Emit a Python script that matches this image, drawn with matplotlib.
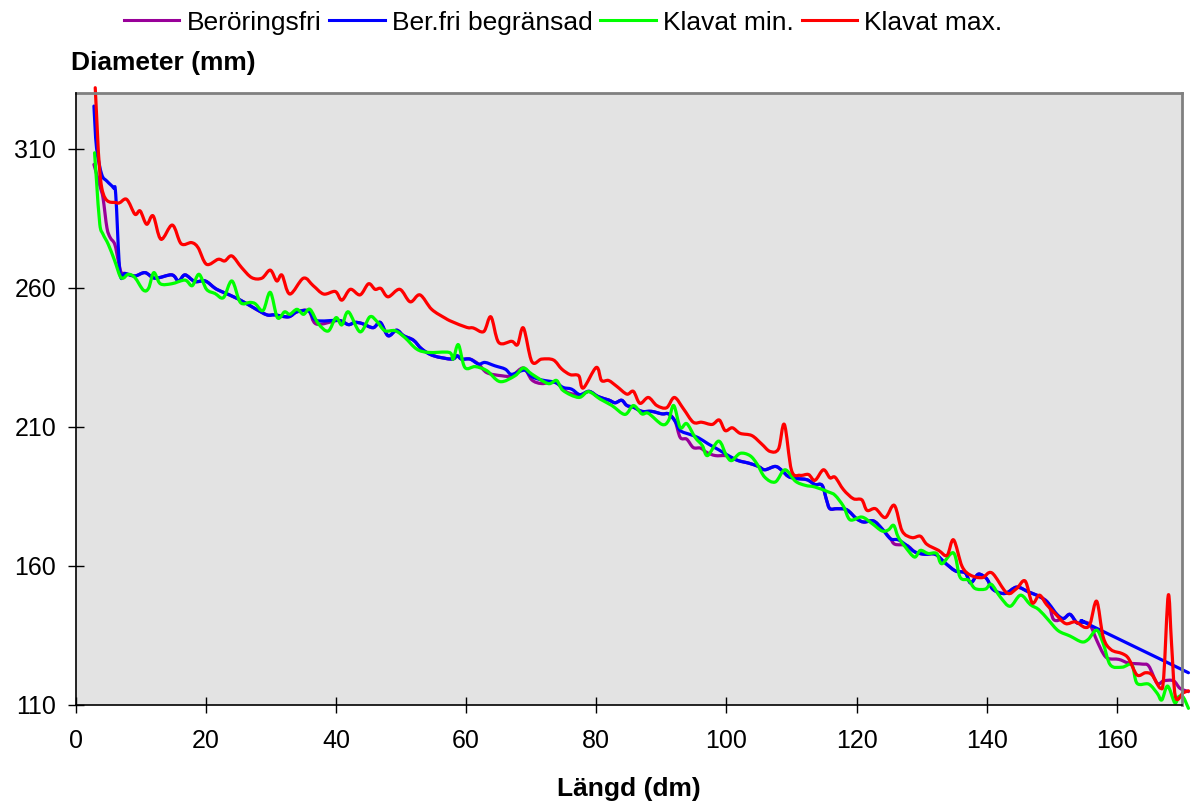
import matplotlib
matplotlib.use("Agg")
import matplotlib.pyplot as plt
from matplotlib.path import Path
from matplotlib.patches import PathPatch

plt.rcParams['font.family'] = ['Liberation Sans', 'DejaVu Sans']

# Klavat max. (red)
max_x = [3, 4, 6.3, 7.8, 9.1, 9.9, 10.9, 11.9, 13.1, 14.85, 16.2, 17.8, 18.8, 20.1,
         21.9, 22.9, 24.0, 25.5, 27.05, 28.6, 29.9, 30.9, 31.7, 32.9, 35.0, 36.5,
         38.1, 39.9, 40.9, 42.2, 43.7, 45.0, 46.0, 46.9, 48.0, 49.8, 51.4, 52.9,
         54.7, 56.8, 57.8, 60.1, 61.1, 62.7, 63.8, 65.0, 67.0, 67.9, 68.8, 70.1,
         71.6, 73.4, 74.7, 76.0, 77.3, 78.0, 80.0, 80.8, 81.9, 83.2, 84.7, 85.7,
         86.7, 88.0, 89.3, 90.8, 92.0, 93.4, 94.9, 96.2, 97.8, 98.9, 99.8, 100.9,
         102.1, 103.9, 105.4, 106.7, 108.0, 108.9, 110.0, 111.3, 112.6, 113.6,
         114.9, 115.9, 116.7, 118.0, 119.5, 120.8, 121.6, 122.9, 124.4, 125.8,
         127.0, 128.5, 129.8, 130.8, 132.6, 133.9, 134.9, 136.2, 137.5, 139.3,
         140.8, 143.1, 144.6, 145.9, 147.0, 148.1, 149.2, 150.5, 152.1, 153.6,
         155.1, 155.9, 156.9, 157.9, 159.1, 160.8, 161.8, 163.1, 164.4, 165.4,
         166.7, 167.2, 167.9, 168.4, 169.0, 170.2, 171.0]
max_y = [332, 296, 290.6, 291.9, 286.5, 287.7, 282.9, 285.9, 277.5, 282.6, 275.9, 276.3,
         274.5, 268.5, 270.3, 269.7, 271.5, 267.3, 263.7, 263.5, 266.4, 262.5, 264.6,
         257.8, 263.5, 260.8, 257.8, 258.7, 255.6, 259.5, 257.5, 261.5, 259.5, 259.8,
         256.8, 259.5, 255.0, 257.5, 252.3, 249.1, 247.9, 245.8, 245.6, 244.3, 249.6,
         240.4, 240.8, 239.6, 245.6, 233.5, 234.4, 234.1, 230.8, 228.8, 228.4, 224.0,
         231.4, 226.7, 226.7, 224.5, 221.8, 222.8, 218.5, 220.6, 217.7, 216.9, 220.6,
         216.5, 211.7, 211.7, 210.9, 212.5, 208.7, 209.7, 207.7, 206.9, 203.9, 201.2,
         202.1, 210.9, 194.4, 192.6, 192.9, 190.8, 194.6, 191.7, 191.9, 187.4, 184.2,
         183.8, 180.0, 180.6, 177.4, 181.8, 172.6, 170.2, 170.7, 167.8, 165.6, 163.8,
         169.4, 159.9, 156.7, 155.8, 157.5, 150.3, 151.9, 154.6, 146.7, 149.5, 146.1,
         142.9, 139.3, 139.9, 137.9, 139.3, 147.3, 134.4, 129.9, 128.5, 126.7, 120.8,
         121.6, 120.8, 116.0, 120.2, 149.5, 132.1, 113.0, 114.4, 115.1]

# Klavat min. (green)
min_x = [2.9, 3.2, 3.7, 4.2, 5.0, 6.0, 6.8, 7.3, 8.1, 9.1, 10.4, 11.2, 12.0, 13.0,
         14.75, 16.8, 17.9, 18.95, 20.1, 21.4, 22.7, 24.0, 25.3, 26.8, 27.6, 28.8,
         29.9, 31.0, 32.1, 32.9, 34.0, 35.0, 36.0, 37.3, 38.8, 40.0, 40.9, 41.9,
         43.7, 45.2, 46.3, 47.5, 49.1, 50.6, 52.4, 54.2, 57.4, 58.0, 58.8, 59.8,
         61.4, 63.2, 65.2, 67.5, 68.8, 70.1, 72.6, 73.9, 74.9, 77.3, 78.8, 80.6,
         82.4, 84.4, 85.7, 87.0, 88.0, 90.1, 91.1, 91.9, 92.9, 93.9, 95.2, 96.3,
         97.1, 98.8, 100.0, 100.8, 102.1, 103.6, 104.7, 105.9, 107.5, 109.0, 110.6,
         112.1, 113.6, 115.7, 116.7, 118.0, 119.0, 120.8, 122.3, 123.9, 124.9,
         125.7, 126.4, 127.5, 128.9, 129.8, 131.0, 132.3, 133.1, 134.9, 135.9,
         137.2, 138.2, 139.8, 140.7, 142.1, 143.6, 145.2, 146.7, 148.0, 149.5,
         151.0, 152.8, 154.6, 155.6, 156.9, 157.9, 159.0, 160.8, 162.3, 163.1,
         164.9, 166.2, 166.9, 167.8, 168.9, 169.5, 170.2, 171.0]
min_y = [308.6, 298.4, 282.9, 279.3, 275.7, 269.7, 264.3, 263.5, 264.9, 263.7, 259.2,
         259.9, 265.5, 261.5, 261.5, 262.8, 260.8, 264.9, 259.5, 258.0, 256.5, 262.5,
         254.8, 254.8, 254.3, 251.9, 258.4, 249.3, 251.4, 250.5, 252.3, 250.5, 252.3,
         247.1, 244.5, 249.3, 246.7, 251.4, 244.2, 249.6, 247.9, 244.6, 244.6, 242.1,
         238.0, 236.8, 236.8, 234.4, 239.6, 231.4, 231.7, 230.2, 226.3, 228.4, 231.2,
         229.0, 225.6, 226.7, 223.1, 220.6, 222.7, 220.0, 217.7, 214.5, 217.7, 214.7,
         214.9, 210.9, 212.3, 217.7, 209.8, 211.2, 206.2, 203.3, 199.7, 204.9, 199.7,
         197.9, 200.5, 199.7, 196.7, 191.9, 190.2, 194.6, 190.5, 189.0, 188.4, 186.6,
         185.4, 181.4, 176.6, 177.6, 175.4, 172.6, 173.0, 174.6, 170.4, 166.8, 163.2,
         165.6, 164.5, 164.5, 160.8, 164.7, 156.0, 154.9, 151.9, 151.7, 153.4, 148.8,
         145.5, 149.5, 146.1, 144.3, 140.5, 136.7, 134.8, 132.7, 133.6, 136.9, 132.1,
         124.4, 123.6, 124.4, 117.8, 117.5, 114.2, 111.8, 116.8, 110.8, 113.0, 112.8,
         108.8]

# Ber.fri begränsad (blue)
begr_x = [2.8, 3.2, 4.0, 4.8, 5.8, 6.15, 6.8, 7.6, 9.1, 10.65, 12.2, 14.75, 15.8, 16.8,
          18.3, 19.9, 21.4, 22.4, 25.0, 27.6, 29.4, 30.6, 32.7, 34.0, 35.8, 37.0,
          40.4, 41.9, 42.9, 44.0, 45.7, 46.8, 48.0, 49.3, 50.4, 51.9, 53.2, 55.0,
          57.8, 58.6, 59.3, 60.6, 61.9, 62.9, 64.4, 66.0, 66.8, 67.5, 69.0, 70.1,
          71.6, 73.7, 74.9, 76.2, 77.5, 78.9, 80.3, 81.9, 82.9, 83.9, 84.7, 85.7,
          87.0, 88.5, 90.1, 91.1, 92.1, 92.9, 94.4, 95.7, 97.2, 98.8, 100.3, 101.8,
          103.4, 104.9, 105.9, 107.5, 108.5, 109.5, 110.6, 112.4, 113.6, 114.7,
          115.4, 115.9, 117.0, 118.5, 120.0, 121.1, 122.6, 123.9, 125.2, 126.4,
          127.7, 129.0, 130.5, 132.1, 133.6, 135.2, 136.7, 137.5, 138.5, 139.0,
          140.0, 141.0, 142.8, 144.6, 146.4, 148.2, 149.5, 150.8, 151.8, 152.8,
          153.9, 154.9, 155.9, 171.0]
begr_y = [325.4, 310.4, 300.8, 298.4, 296.0, 293.6, 265.5, 265.2, 264.3, 265.5, 263.5,
          264.7, 262.5, 264.7, 262.3, 262.5, 259.9, 258.7, 256.0, 252.5, 250.3, 250.3,
          249.6, 251.4, 251.7, 248.3, 248.3, 246.8, 247.6, 247.2, 245.7, 247.6, 242.8,
          244.8, 242.8, 241.2, 238.0, 235.6, 234.4, 235.6, 234.4, 234.4, 232.6, 233.2,
          232.0, 230.8, 229.0, 229.2, 230.4, 228.1, 226.9, 226.0, 224.2, 223.6, 221.6,
          222.8, 220.9, 219.7, 218.7, 219.6, 217.7, 217.1, 215.6, 215.6, 214.7, 214.7,
          212.1, 208.7, 207.3, 206.1, 203.9, 201.8, 199.7, 197.9, 197.0, 195.8, 194.6,
          195.8, 194.4, 192.2, 191.5, 191.0, 189.3, 189.0, 183.6, 180.6, 180.6, 180.2,
          177.0, 175.8, 176.2, 173.4, 169.8, 169.4, 167.4, 165.0, 164.2, 164.2, 161.1,
          158.2, 157.5, 153.9, 156.7, 157.0, 155.4, 151.5, 150.1, 152.4, 150.7, 148.9,
          146.5, 142.6, 141.1, 142.6, 139.5, 139.9, 138.7, 121.6]

# Beröringsfri (purple)
fri_x = [2.8, 3.8, 4.2, 4.8, 5.3, 6.0, 6.55, 7.0, 7.6, 9.1, 10.65, 12.2, 14.75, 15.8,
         16.8, 18.3, 19.9, 21.4, 22.4, 25.0, 27.6, 29.4, 30.6, 32.7, 34.0, 35.8, 37.0,
         40.4, 41.9, 42.9, 44.0, 45.7, 46.8, 48.0, 49.3, 50.4, 51.9, 53.2, 55.0, 57.8,
         58.6, 59.3, 60.6, 61.9, 63.2, 65.5, 67.0, 68.8, 70.1, 71.6, 73.7, 75.5, 77.5,
         78.9, 80.3, 81.9, 82.9, 83.9, 84.7, 85.7, 87.0, 88.5, 90.1, 91.1, 92.1, 92.9,
         93.9, 94.9, 96.0, 97.0, 98.3, 99.8, 100.6, 101.8, 103.4, 104.9, 105.9, 107.5,
         108.5, 109.5, 110.6, 112.4, 113.6, 114.7, 115.4, 115.9, 117.0, 118.5, 120.0,
         121.1, 122.6, 123.9, 125.2, 125.9, 127.7, 129.0, 130.5, 132.1, 133.6, 135.2,
         136.7, 137.5, 138.5, 139.0, 140.0, 141.0, 142.8, 144.6, 146.4, 148.2, 149.5,
         150.3, 151.8, 152.8, 153.9, 154.9, 155.9, 156.9, 157.9, 158.7, 160.3, 161.8,
         163.9, 164.9, 166.2, 167.2, 168.7, 169.7, 171.0]
fri_y = [304.4, 296.0, 292.3, 281.6, 278.1, 275.7, 269.7, 265.5, 265.2, 264.3, 265.5,
         263.5, 264.7, 262.5, 264.7, 262.3, 262.5, 259.9, 258.7, 256.0, 252.5, 250.3,
         250.3, 249.6, 251.4, 251.7, 247.0, 248.3, 246.8, 247.6, 247.2, 245.7, 247.6,
         242.8, 244.8, 242.8, 241.2, 238.0, 235.6, 234.4, 235.6, 234.4, 234.4, 232.6,
         229.5, 228.4, 228.4, 231.2, 226.9, 225.6, 226.0, 222.5, 221.6, 222.8, 220.9,
         219.7, 218.7, 219.6, 217.7, 217.1, 215.6, 215.6, 214.7, 214.7, 212.1, 206.2,
         205.6, 202.6, 202.4, 200.8, 199.7, 199.7, 199.1, 197.9, 197.0, 195.8, 194.6,
         195.8, 194.4, 192.2, 191.5, 191.0, 189.3, 189.0, 183.6, 180.6, 180.6, 180.2,
         177.0, 175.8, 176.2, 173.4, 169.8, 167.8, 167.4, 165.0, 164.2, 164.2, 161.1,
         158.2, 157.5, 153.9, 156.7, 157.0, 155.4, 151.5, 150.1, 152.4, 150.7, 148.9,
         146.5, 140.7, 141.1, 142.6, 139.5, 139.9, 138.7, 133.3, 128.5, 126.7, 126.4,
         125.1, 124.7, 124.0, 117.8, 118.7, 118.7, 116.0, 114.8]

x_ticks = [0, 20, 40, 60, 80, 100, 120, 140, 160]
y_ticks = [110, 160, 210, 260, 310]


def smooth_path(xs, ys):
    # Excel-style smoothed line: cubic Bezier through every point
    pts = list(zip(xs, ys))
    n = len(pts)
    verts = [pts[0]]
    codes = [Path.MOVETO]
    for i in range(n - 1):
        p0 = pts[i - 1] if i > 0 else pts[i]
        p1 = pts[i]
        p2 = pts[i + 1]
        p3 = pts[i + 2] if i + 2 < n else pts[i + 1]
        c1 = (p1[0] + (p2[0] - p0[0]) / 6, p1[1] + (p2[1] - p0[1]) / 6)
        c2 = (p2[0] - (p3[0] - p1[0]) / 6, p2[1] - (p3[1] - p1[1]) / 6)
        verts += [c1, c2, p2]
        codes += [Path.CURVE4] * 3
    return Path(verts, codes)


fig = plt.figure(figsize=(11.98, 8.07), dpi=100)
ax = fig.add_axes([0.0632, 0.1264, 0.9234, 0.758])
ax.set_facecolor('#E3E3E3')

series = [(fri_x, fri_y, '#990099', 'Beröringsfri'),
          (begr_x, begr_y, '#0000FF', 'Ber.fri begränsad'),
          (min_x, min_y, '#00FF00', 'Klavat min.'),
          (max_x, max_y, '#FF0000', 'Klavat max.')]

for xs, ys, col, name in series:
    patch = PathPatch(smooth_path(xs, ys), facecolor='none', edgecolor=col, lw=2.3,
                      capstyle='round', joinstyle='round', clip_on=False)
    ax.add_patch(patch)
    ax.plot([], [], color=col, lw=2.2, label=name)

ax.set_xlim(0, 170)
ax.set_ylim(110, 330)
ax.set_xticks(x_ticks)
ax.set_yticks(y_ticks)
ax.tick_params(axis='both', direction='inout', length=12, width=1, labelsize=18)
ax.tick_params(axis='x', pad=11)
ax.tick_params(axis='y', pad=8)

for s in ['top', 'right']:
    ax.spines[s].set_color('#808080')
    ax.spines[s].set_linewidth(2)
for s in ['left', 'bottom']:
    ax.spines[s].set_color('black')
    ax.spines[s].set_linewidth(1.2)
    ax.spines[s].set_zorder(5)

fig.legend(loc='center', bbox_to_anchor=(0.470, 0.972), ncol=4, frameon=False,
           fontsize=19, handlelength=2.1, handletextpad=0.27, columnspacing=0.3)

fig.text(71/1198, 1 - 63/807, 'Diameter (mm)', fontsize=19, fontweight='bold',
         ha='left', va='center')
fig.text(629/1198, 1 - 789/807, 'Längd (dm)', fontsize=19, fontweight='bold',
         ha='center', va='center')

fig.savefig('out.png', dpi=100)
